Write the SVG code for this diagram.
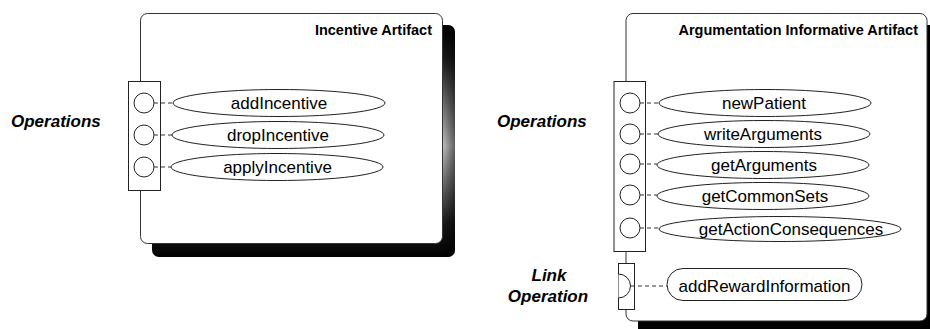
<svg xmlns="http://www.w3.org/2000/svg" width="930" height="329" viewBox="0 0 930 329">
<defs>
<linearGradient id="shadeV" x1="0" y1="0" x2="0" y2="1">
<stop offset="0" stop-color="#000"/>
<stop offset="0.15" stop-color="#222"/>
<stop offset="0.52" stop-color="#eee"/>
<stop offset="0.85" stop-color="#222"/>
<stop offset="1" stop-color="#000"/>
</linearGradient>
<linearGradient id="shadeH" x1="0" y1="0" x2="1" y2="0">
<stop offset="0" stop-color="#000" stop-opacity="0"/>
<stop offset="0.94" stop-color="#000" stop-opacity="0"/>
<stop offset="1" stop-color="#000" stop-opacity="0.6"/>
</linearGradient>
</defs>
<style>
.box{fill:#fff;stroke:#333;stroke-width:1}
.ln{fill:#fff;stroke:#222;stroke-width:1}
.dash{fill:none;stroke:#333;stroke-width:1;stroke-dasharray:4 3}
.title{font-family:"Liberation Sans",Arial,sans-serif;font-weight:bold;font-size:14.5px;text-anchor:end;fill:#000}
.op{font-family:"Liberation Sans",Arial,sans-serif;font-size:17px;text-anchor:middle;fill:#000}
.lbl{font-family:"Liberation Sans",Arial,sans-serif;font-weight:bold;font-style:italic;font-size:17px;fill:#000}
</style>
<rect width="930" height="329" fill="#fff"/>

<g id="incentive-artifact">
<rect x="152" y="25" width="303" height="232" rx="7" fill="url(#shadeV)"/>
<rect x="152" y="25" width="303" height="232" rx="7" fill="url(#shadeH)"/>
<rect class="box" x="140.5" y="13.5" width="302" height="230" rx="7"/>
<text class="title" x="432" y="35">Incentive Artifact</text>
</g>

<g id="incentive-operations-label">
<text class="lbl" x="11" y="127">Operations</text>
</g>

<g id="incentive-ops-port">
<rect class="ln" x="128.5" y="81.5" width="32" height="109"/>
<circle class="ln" cx="144" cy="103" r="10"/>
<circle class="ln" cx="144" cy="135" r="10"/>
<circle class="ln" cx="144" cy="167" r="10"/>
</g>

<g id="op-addIncentive">
<ellipse class="ln" cx="279" cy="103" rx="106" ry="13.5"/>
<text class="op" x="279" y="109">addIncentive</text>
</g>
<g id="op-dropIncentive">
<ellipse class="ln" cx="278" cy="135" rx="106" ry="13.5"/>
<text class="op" x="278" y="141">dropIncentive</text>
</g>
<g id="op-applyIncentive">
<ellipse class="ln" cx="277" cy="167" rx="106" ry="13.5"/>
<text class="op" x="277.5" y="173">applyIncentive</text>
</g>

<g id="argumentation-artifact">
<rect x="638" y="25" width="300" height="310" rx="7" fill="#000"/>
<rect class="box" x="626" y="13.5" width="301" height="307.5" rx="7"/>
<text class="title" x="918" y="35">Argumentation Informative Artifact</text>
</g>

<g id="argumentation-operations-label">
<text class="lbl" x="497" y="127">Operations</text>
</g>

<g id="link-operation-label">
<text class="lbl" x="549" y="281" text-anchor="middle">Link</text>
<text class="lbl" x="548" y="302" text-anchor="middle">Operation</text>
</g>

<g id="argumentation-ops-port">
<rect class="ln" x="614" y="81.5" width="31.5" height="170"/>
<circle class="ln" cx="630" cy="103" r="10"/>
<circle class="ln" cx="630" cy="134" r="10"/>
<circle class="ln" cx="630" cy="164" r="10"/>
<circle class="ln" cx="630" cy="195" r="10"/>
<circle class="ln" cx="630" cy="228" r="10"/>
</g>

<g id="link-port">
<rect class="ln" x="618.5" y="263.5" width="16" height="46"/>
<path class="ln" d="M618.5,274 A12,12 0 0 1 618.5,298"/>
</g>

<g id="op-newPatient">
<ellipse class="ln" cx="765" cy="103" rx="106" ry="13.5"/>
<text class="op" x="764" y="109">newPatient</text>
</g>
<g id="op-writeArguments">
<ellipse class="ln" cx="764" cy="134" rx="106" ry="13.5"/>
<text class="op" x="763" y="140">writeArguments</text>
</g>
<g id="op-getArguments">
<ellipse class="ln" cx="763" cy="165" rx="106" ry="13.5"/>
<text class="op" x="764" y="171">getArguments</text>
</g>
<g id="op-getCommonSets">
<ellipse class="ln" cx="763" cy="196" rx="106" ry="13.5"/>
<text class="op" x="765" y="202">getCommonSets</text>
</g>
<g id="op-getActionConsequences">
<ellipse class="ln" cx="780" cy="229" rx="121" ry="12.5"/>
<text class="op" x="791" y="235">getActionConsequences</text>
</g>
<g id="op-addRewardInformation">
<rect class="ln" x="667" y="268.5" width="195" height="32" rx="16"/>
<text class="op" x="764.5" y="292">addRewardInformation</text>
</g>

<g id="connectors">
<line class="dash" x1="154" y1="103" x2="173" y2="103"/>
<line class="dash" x1="154" y1="135" x2="172" y2="135"/>
<line class="dash" x1="154" y1="167" x2="171" y2="167"/>
<line class="dash" x1="640" y1="103" x2="659" y2="103"/>
<line class="dash" x1="640" y1="134" x2="658" y2="134"/>
<line class="dash" x1="640" y1="164" x2="657" y2="164"/>
<line class="dash" x1="640" y1="195" x2="657" y2="195"/>
<line class="dash" x1="640" y1="228" x2="659" y2="228"/>
<line class="dash" x1="631" y1="286" x2="667" y2="286"/>
</g>
</svg>
